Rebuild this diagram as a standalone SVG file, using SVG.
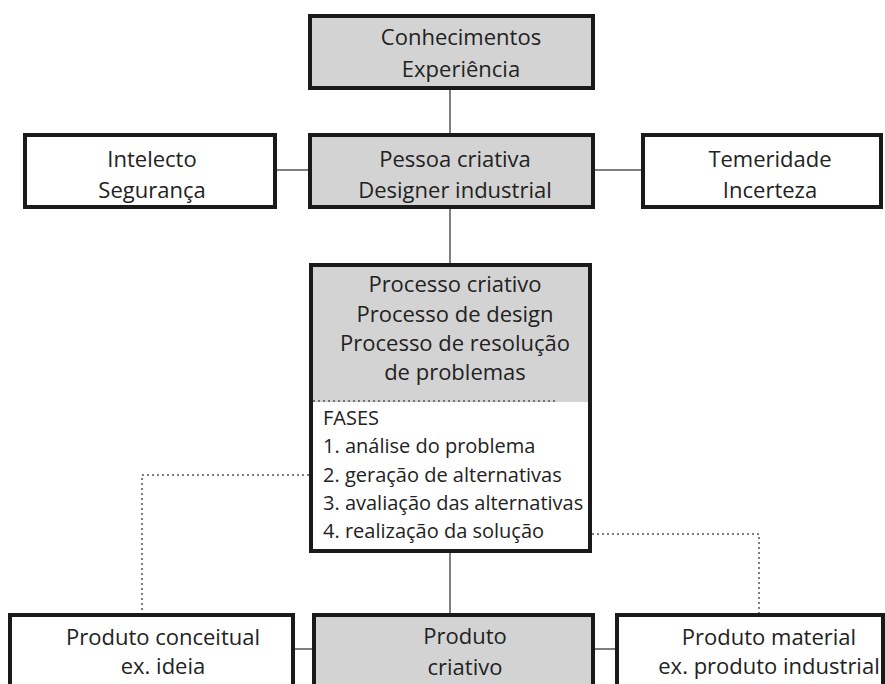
<svg xmlns="http://www.w3.org/2000/svg" width="885" height="684" viewBox="0 0 885 684">
<style>
.box{stroke:#1a1a1a;stroke-width:4}
.g{fill:#d3d3d3}
.w{fill:#ffffff}
.t{font-family:"Open Sans","Liberation Sans",sans-serif;font-size:22px;fill:#222;text-anchor:middle}
.f{font-family:"Open Sans","Liberation Sans",sans-serif;font-size:20px;fill:#222}
.c{stroke:#555;stroke-width:1.5;fill:none}
.d{stroke:#555;stroke-width:1.5;fill:none;stroke-dasharray:2 3}
</style>
<rect width="885" height="684" fill="#ffffff"/>
<g id="connectors">
<line class="c" x1="450" y1="88" x2="450" y2="135"/>
<line class="c" x1="275" y1="170" x2="310" y2="170"/>
<line class="c" x1="593" y1="170" x2="643" y2="170"/>
<line class="c" x1="450" y1="207" x2="450" y2="265"/>
<line class="c" x1="450" y1="551" x2="450" y2="615"/>
<line class="c" x1="293" y1="649" x2="314" y2="649"/>
<line class="c" x1="593" y1="649" x2="617" y2="649"/>
<polyline class="d" points="309,475 142,475 142,613"/>
<polyline class="d" points="592,534 759,534 759,615"/>
</g>
<g id="conhecimentos">
<rect class="box g" x="310" y="16" width="283" height="72"/>
<text class="t" x="461" y="45">Conhecimentos</text>
<text class="t" x="461" y="77">Experiência</text>
</g>
<g id="intelecto">
<rect class="box w" x="25" y="135" width="250" height="72"/>
<text class="t" x="152" y="167">Intelecto</text>
<text class="t" x="152" y="198">Segurança</text>
</g>
<g id="pessoa">
<rect class="box g" x="310" y="135" width="283" height="72"/>
<text class="t" x="455" y="167">Pessoa criativa</text>
<text class="t" x="455" y="198">Designer industrial</text>
</g>
<g id="temeridade">
<rect class="box w" x="643" y="135" width="238" height="72"/>
<text class="t" x="770" y="167">Temeridade</text>
<text class="t" x="770" y="198">Incerteza</text>
</g>
<g id="processo">
<rect class="box w" x="311" y="265" width="279" height="286"/>
<rect class="g" x="313" y="267" width="275" height="135"/>
<line class="d" x1="313" y1="401" x2="558" y2="401"/>
<text class="t" x="455" y="292">Processo criativo</text>
<text class="t" x="455" y="322">Processo de design</text>
<text class="t" x="455" y="351">Processo de resolução</text>
<text class="t" x="455" y="380">de problemas</text>
<text class="f" x="323" y="425">FASES</text>
<text class="f" x="323" y="453">1. análise do problema</text>
<text class="f" x="323" y="482">2. geração de alternativas</text>
<text class="f" x="323" y="510">3. avaliação das alternativas</text>
<text class="f" x="323" y="538">4. realização da solução</text>
</g>
<g id="conceitual">
<rect class="box w" x="10" y="615" width="283" height="90"/>
<text class="t" x="163" y="645">Produto conceitual</text>
<text class="t" x="163" y="674">ex. ideia</text>
</g>
<g id="criativo">
<rect class="box g" x="314" y="615" width="279" height="90"/>
<text class="t" x="465" y="644">Produto</text>
<text class="t" x="465" y="675">criativo</text>
</g>
<g id="material">
<rect class="box w" x="617" y="615" width="266" height="90"/>
<text class="t" x="769" y="645">Produto material</text>
<text class="t" x="769" y="674">ex. produto industrial</text>
</g>
</svg>
